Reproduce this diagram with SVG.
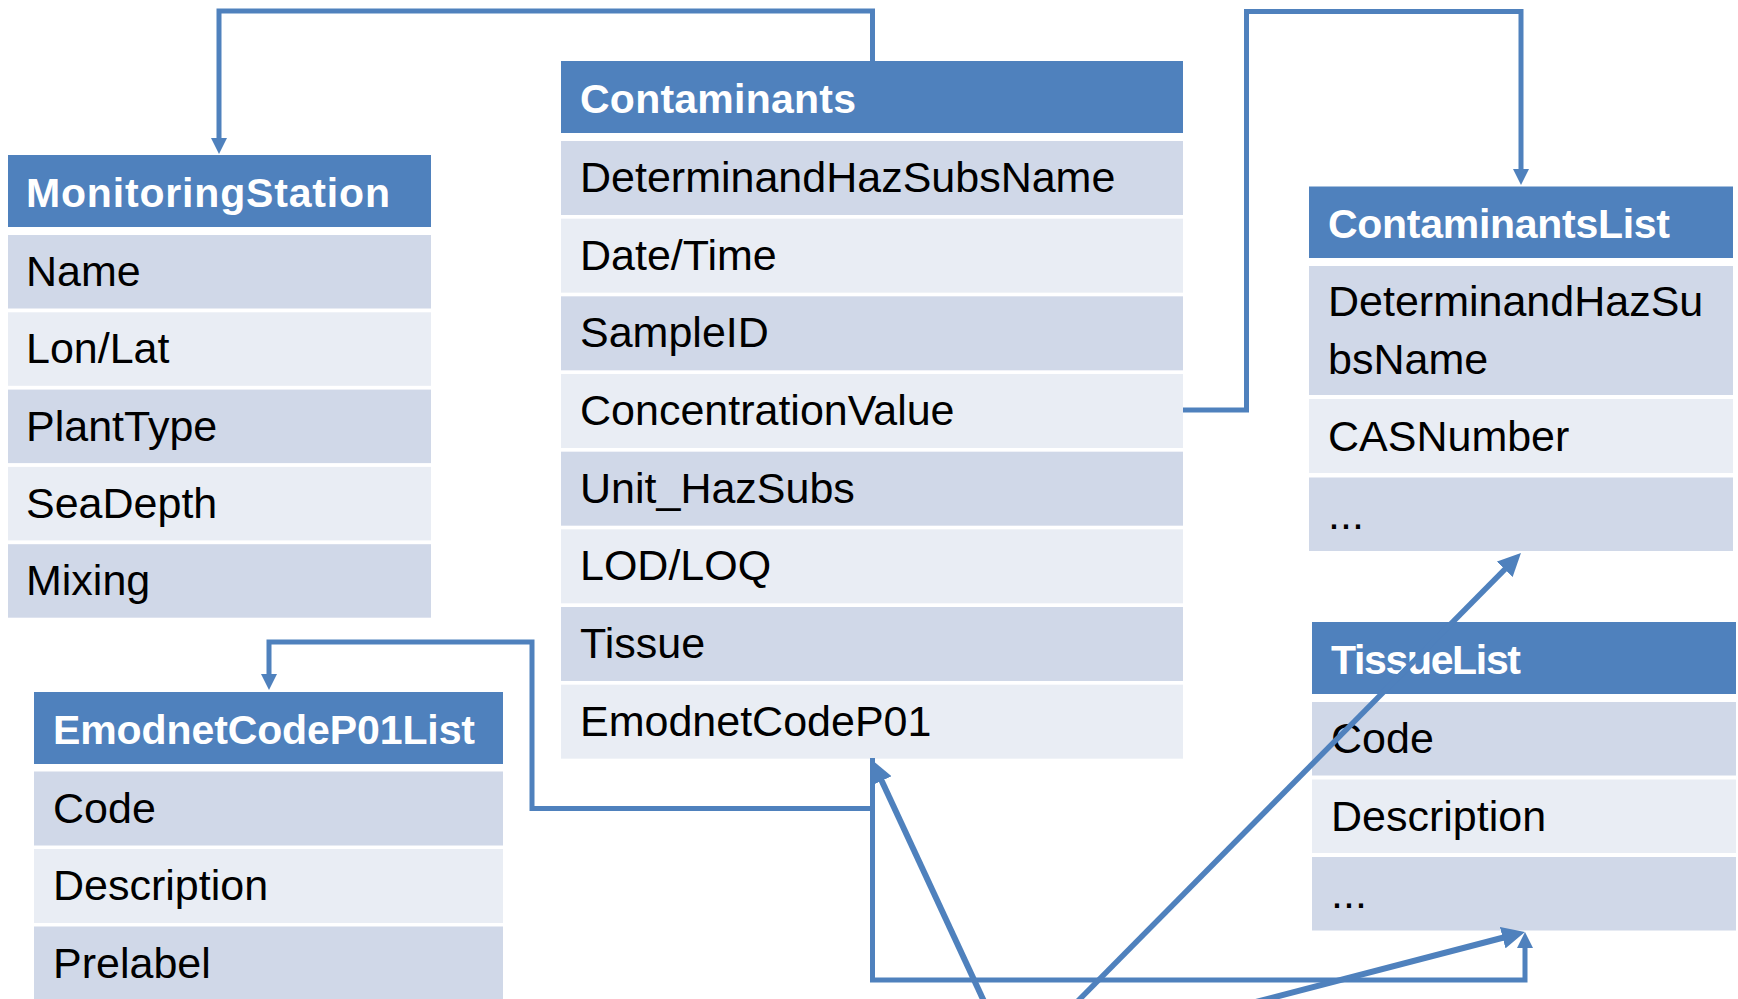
<svg xmlns="http://www.w3.org/2000/svg" width="1738" height="999" viewBox="0 0 1738 999">
<style>
.hd{fill:#4F81BD}
.dk{fill:#D0D8E8}
.lt{fill:#E9EDF4}
.ht{font-family:"Liberation Sans",Arial,sans-serif;font-weight:bold;font-size:41px;fill:#FFFFFF}
.rt{font-family:"Liberation Sans",Arial,sans-serif;font-size:43px;fill:#000000}
.thin{fill:none;stroke:#4F81BD;stroke-width:5;stroke-linejoin:miter}
.thick{fill:none;stroke:#4F81BD;stroke-width:6}
.thick2{fill:none;stroke:#4F81BD;stroke-width:5.5}
</style>
<defs>
<marker id="ah" markerUnits="userSpaceOnUse" markerWidth="16" markerHeight="16" refX="1" refY="8" orient="auto">
<path d="M0,0 L16,8 L0,16 z" fill="#4F81BD"/>
</marker>
<marker id="ahb" markerUnits="userSpaceOnUse" markerWidth="23" markerHeight="22" refX="3" refY="11" orient="auto">
<path d="M0,0 L23,11 L0,22 z" fill="#4F81BD"/>
</marker>
</defs>
<rect width="1738" height="999" fill="#FFFFFF"/>

<g id="MonitoringStation">
<rect class="hd" x="8" y="155" width="423" height="72"/>
<text class="ht" x="26" y="207" textLength="364">MonitoringStation</text>
<rect class="dk" x="8" y="235" width="423" height="73.5"/>
<text class="rt" x="26" y="286">Name</text>
<rect class="lt" x="8" y="312.3" width="423" height="73.5"/>
<text class="rt" x="26" y="363.3">Lon/Lat</text>
<rect class="dk" x="8" y="389.6" width="423" height="73.5"/>
<text class="rt" x="26" y="440.6">PlantType</text>
<rect class="lt" x="8" y="466.9" width="423" height="73.5"/>
<text class="rt" x="26" y="517.9">SeaDepth</text>
<rect class="dk" x="8" y="544.2" width="423" height="73.5"/>
<text class="rt" x="26" y="595.2">Mixing</text>
</g>

<g id="Contaminants">
<rect class="hd" x="561" y="61" width="622" height="72"/>
<text class="ht" x="580" y="113" textLength="276">Contaminants</text>
<rect class="dk" x="561" y="141" width="622" height="74"/>
<text class="rt" x="580" y="192">DeterminandHazSubsName</text>
<rect class="lt" x="561" y="218.67" width="622" height="74"/>
<text class="rt" x="580" y="269.67">Date/Time</text>
<rect class="dk" x="561" y="296.33" width="622" height="74"/>
<text class="rt" x="580" y="347.33">SampleID</text>
<rect class="lt" x="561" y="374" width="622" height="74"/>
<text class="rt" x="580" y="425">ConcentrationValue</text>
<rect class="dk" x="561" y="451.67" width="622" height="74"/>
<text class="rt" x="580" y="502.67">Unit_HazSubs</text>
<rect class="lt" x="561" y="529.33" width="622" height="74"/>
<text class="rt" x="580" y="580.33">LOD/LOQ</text>
<rect class="dk" x="561" y="607" width="622" height="74"/>
<text class="rt" x="580" y="658">Tissue</text>
<rect class="lt" x="561" y="684.67" width="622" height="74"/>
<text class="rt" x="580" y="735.67">EmodnetCodeP01</text>
</g>

<g id="ContaminantsList">
<rect class="hd" x="1309" y="186.5" width="424" height="71.5"/>
<text class="ht" x="1328" y="238" textLength="342">ContaminantsList</text>
<rect class="dk" x="1309" y="266" width="424" height="129"/>
<text class="rt" x="1328" y="316">DeterminandHazSu</text>
<text class="rt" x="1328" y="374">bsName</text>
<rect class="lt" x="1309" y="399" width="424" height="74"/>
<text class="rt" x="1328" y="451">CASNumber</text>
<rect class="dk" x="1309" y="477.5" width="424" height="73.5"/>
<text class="rt" x="1328" y="529">...</text>
</g>

<g id="TissueList">
<rect class="hd" x="1312" y="622" width="424" height="72"/>
<text class="ht" x="1331" y="674" textLength="190">TissueList</text>
<rect class="dk" x="1312" y="702" width="424" height="73.5"/>
<text class="rt" x="1331" y="753">Code</text>
<rect class="lt" x="1312" y="779.5" width="424" height="73.5"/>
<text class="rt" x="1331" y="830.5">Description</text>
<rect class="dk" x="1312" y="857" width="424" height="73.5"/>
<text class="rt" x="1331" y="908">...</text>
</g>

<g id="EmodnetCodeP01List">
<rect class="hd" x="34" y="692" width="469" height="72"/>
<text class="ht" x="53" y="744" textLength="422">EmodnetCodeP01List</text>
<rect class="dk" x="34" y="771.5" width="469" height="74"/>
<text class="rt" x="53" y="822.5">Code</text>
<rect class="lt" x="34" y="849" width="469" height="74"/>
<text class="rt" x="53" y="900">Description</text>
<rect class="dk" x="34" y="926.5" width="469" height="74"/>
<text class="rt" x="53" y="977.5">Prelabel</text>
</g>

<g id="connectors">
<path class="thin" d="M872.5,61 V11 H219 V139" marker-end="url(#ah)"/>
<path class="thin" d="M1183,410 H1246.5 V11.5 H1521 V170" marker-end="url(#ah)"/>
<path class="thin" d="M872.5,808.5 H532 V642 H269 V675" marker-end="url(#ah)"/>
<path class="thin" d="M872.5,758 V980 H1525 V947" marker-end="url(#ah)"/>
<path class="thick" d="M988,1010 L880.4,778.1" marker-end="url(#ahb)"/>
<path class="thick2" d="M1069,1010 L1506.9,567.2" marker-end="url(#ahb)"/>
<path class="thick" d="M1225,1010 L1505.6,937" marker-end="url(#ahb)"/>
</g>
</svg>
